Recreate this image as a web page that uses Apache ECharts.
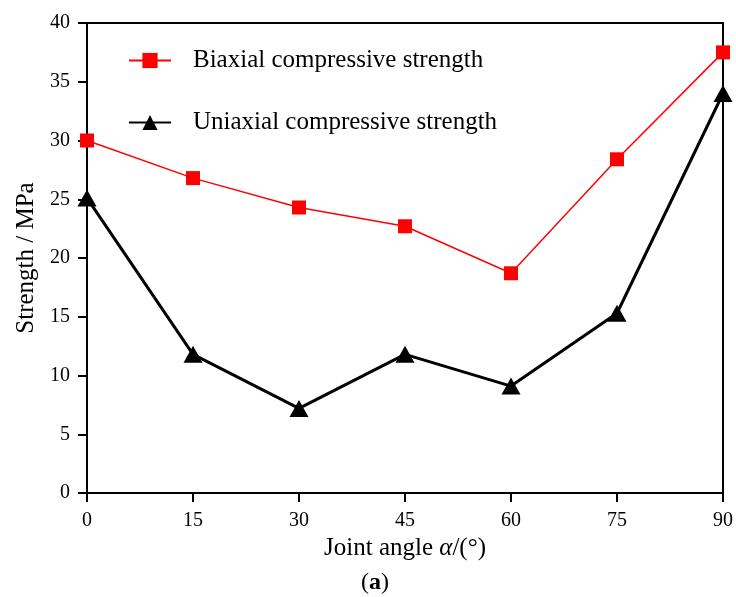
<!DOCTYPE html>
<html>
<head>
<meta charset="utf-8">
<script src="https://cdn.jsdelivr.net/npm/echarts@6/dist/echarts.min.js"></script>
<style>html,body{margin:0;padding:0;background:#fff}#c{width:736px;height:597px}</style>
</head>
<body>
<div id="c"></div>
<script>
const angles = [0, 15, 30, 45, 60, 75, 90];
const biaxial = [30.0, 26.8, 24.3, 22.7, 18.7, 28.4, 37.5];
const uniaxial = [25.1, 11.8, 7.2, 11.8, 9.1, 15.3, 34.0];
const xTicks = [0, 15, 30, 45, 60, 75, 90];
const yTicks = [0, 5, 10, 15, 20, 25, 30, 35, 40];

const font = '"Liberation Serif", "Times New Roman", serif';
const chart = echarts.init(document.getElementById('c'));
chart.setOption({
  animation: false,
  textStyle: { fontFamily: font },
  grid: { left: 87, right: 10, top: 23, bottom: 104, show: true, borderColor: '#000', borderWidth: 2, backgroundColor: 'transparent' },
  title: {
    text: '({b|a})',
    left: 361, top: 571, padding: 0,
    textStyle: {
      fontFamily: font, fontSize: 24, fontWeight: 'normal', color: '#000',
      rich: { b: { fontFamily: font, fontSize: 24, fontWeight: 'bold', color: '#000' } }
    }
  },
  legend: {
    orient: 'vertical',
    left: 128, top: 48, padding: 0,
    itemWidth: 42, itemHeight: 19,
    itemGap: 37,
    textStyle: { fontFamily: font, fontSize: 25, color: '#000', padding: [0, 0, 0, 17] },
    data: ['Biaxial compressive strength', 'Uniaxial compressive strength']
  },
  xAxis: {
    type: 'value', min: 0, max: 90, interval: 15,
    name: 'Joint angle {i|α}/(°)', nameLocation: 'middle', nameGap: 41,
    nameTextStyle: { fontFamily: font, fontSize: 25, color: '#000',
      rich: { i: { fontFamily: font, fontSize: 25, fontStyle: 'italic', color: '#000' } } },
    axisLine: { lineStyle: { color: '#000', width: 2 } },
    axisTick: { inside: false, length: 9, lineStyle: { color: '#000', width: 2 } },
    axisLabel: { fontFamily: font, fontSize: 20, color: '#000', margin: 18,
      formatter: v => xTicks.includes(v) ? String(v) : '' },
    splitLine: { show: false }
  },
  yAxis: {
    type: 'value', min: 0, max: 40, interval: 5,
    name: 'Strength / MPa', nameLocation: 'middle', nameGap: 47, nameRotate: 90,
    nameTextStyle: { fontFamily: font, fontSize: 25, color: '#000' },
    axisLine: { lineStyle: { color: '#000', width: 2 } },
    axisTick: { inside: false, length: 9, lineStyle: { color: '#000', width: 2 } },
    axisLabel: { fontFamily: font, fontSize: 20, color: '#000', margin: 17,
      formatter: v => yTicks.includes(v) ? String(v) : '' },
    splitLine: { show: false }
  },
  series: [
    {
      name: 'Biaxial compressive strength', type: 'line',
      data: angles.map((a, i) => [a, biaxial[i]]),
      symbol: 'rect', symbolSize: 14,
      lineStyle: { color: '#ff0000', width: 1.5 },
      itemStyle: { color: '#ff0000' },
      z: 3
    },
    {
      name: 'Uniaxial compressive strength', type: 'line',
      data: angles.map((a, i) => [a, uniaxial[i]]),
      symbol: 'triangle', symbolSize: [19, 17],
      lineStyle: { color: '#000', width: 3 },
      itemStyle: { color: '#000' },
      z: 2
    }
  ]
});
</script>
</body>
</html>
